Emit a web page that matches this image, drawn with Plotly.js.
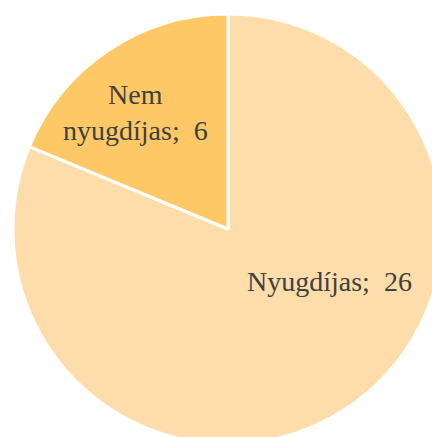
<!DOCTYPE html>
<html><head><meta charset="utf-8">
<script src="https://cdn.plot.ly/plotly-3.0.1.min.js"></script>
<style>html,body{margin:0;padding:0;overflow:hidden;background:#fff;width:432px;height:437px}</style>
</head><body><div id="chart"></div>
<script>
var labels = ["Nyugdíjas", "Nem nyugdíjas"];
var labelLines = ["Nyugdíjas", "Nem<br>nyugdíjas"];
var values = [26, 6];
var colors = ["#FFDDAA", "#FFC867"];
var labelPos = [[0.737, 0.377], [0.284, 0.77]];

var trace = {
  type: "pie", labels: labels, values: values, sort: false,
  direction: "clockwise", rotation: 0,
  marker: {colors: colors, line: {color: "#ffffff", width: 3}},
  textinfo: "none", hoverinfo: "label+value", showlegend: false,
  domain: {x: [0, 1], y: [0, 1]}
};
var annotations = labels.map(function(l, i) {
  return {xref: "paper", yref: "paper", x: labelPos[i][0], y: labelPos[i][1],
    text: labelLines[i] + ";  " + values[i], showarrow: false,
    font: {family: "'Liberation Serif', 'Times New Roman', serif", size: 28, color: "#404040"},
    xanchor: "center", yanchor: "middle", align: "center"};
});
Plotly.newPlot("chart", [trace], {
  width: 443, height: 444, margin: {l: 13, r: 0, t: 14, b: 0},
  paper_bgcolor: "#ffffff", annotations: annotations
}, {displayModeBar: false, staticPlot: true});
</script></body></html>
